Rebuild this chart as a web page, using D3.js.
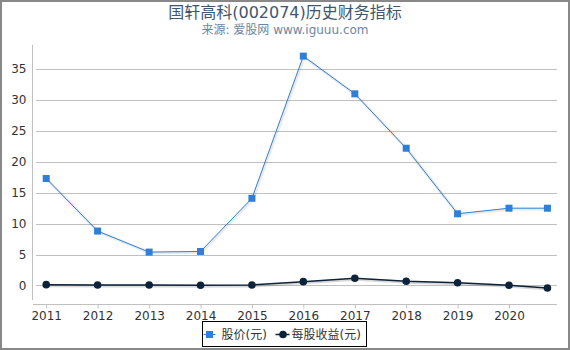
<!DOCTYPE html>
<html>
<head>
<meta charset="utf-8">
<script src="https://cdn.jsdelivr.net/npm/d3@7"></script>
<style>
  body { margin: 0; background: #fff; }
  text { font-family: "DejaVu Sans", "Noto Sans CJK SC", sans-serif; }
</style>
</head>
<body>
<div id="chart"></div>
<script>
// data
const dates = ["2011-01-01", "2012-01-01", "2013-01-01", "2014-01-01", "2015-01-01",
               "2016-01-01", "2017-01-01", "2018-01-01", "2019-01-01", "2020-01-01", "2020-09-30"];
const price = [17.3, 8.8, 5.4, 5.5, 14.1, 37.1, 31.0, 22.2, 11.6, 12.5, 12.5];
const eps = [0.13, 0.08, 0.08, 0.03, 0.08, 0.62, 1.17, 0.68, 0.45, 0.03, -0.4];
const yTicks = [0, 5, 10, 15, 20, 25, 30, 35];
const xTickYears = [2011, 2012, 2013, 2014, 2015, 2016, 2017, 2018, 2019, 2020];
const seriesNames = ["股价(元)", "每股收益(元)"];

const width = 570, height = 350;
const margin = {left: 33, right: 13, top: 45, bottom: 50};

var parse = d3.timeParse("%Y-%m-%d");
var points = dates.map(function(d, i) { return {date: parse(d), price: price[i], eps: eps[i]}; });

var svg = d3.select("#chart").append("svg")
  .attr("width", width)
  .attr("height", height);

// outer frame
svg.append("rect")
  .attr("x", 1).attr("y", 1)
  .attr("width", width - 2).attr("height", height - 2)
  .attr("fill", "#fff")
  .attr("stroke", "#888")
  .attr("stroke-width", 2);

var x = d3.scaleTime()
  .domain([d3.timeDay.offset(points[0].date, -94), d3.timeDay.offset(parse("2020-01-01"), 341)])
  .range([margin.left, width - margin.right]);

var y = d3.scaleLinear()
  .domain([-2.35, 38.9])
  .range([height - margin.bottom, margin.top]);

// gridlines
svg.append("g")
  .selectAll("line")
  .data(yTicks)
  .enter().append("line")
    .attr("x1", margin.left + 3)
    .attr("x2", width - margin.right)
    .attr("y1", function(d) { return Math.round(y(d)) + 0.5; })
    .attr("y2", function(d) { return Math.round(y(d)) + 0.5; })
    .attr("stroke", "#c0c0c0")
    .attr("stroke-width", 1);

// y axis
var yAxis = d3.axisLeft(y)
  .tickValues(yTicks)
  .tickSize(0)
  .tickPadding(6);

var gy = svg.append("g")
  .attr("transform", "translate(" + (margin.left - 0.5) + ",0)")
  .call(yAxis);
gy.select(".domain").attr("stroke", "#c0c0c0").attr("d", "M0," + margin.top + "V" + (height - margin.bottom));
gy.selectAll("text").attr("font-size", "12px").attr("fill", "#333").attr("font-family", "DejaVu Sans");

// x axis
var xAxis = d3.axisBottom(x)
  .tickValues(xTickYears.map(function(yr) { return new Date(yr, 0, 1); }))
  .tickFormat(d3.timeFormat("%Y"))
  .tickSize(4)
  .tickPadding(3);

var gx = svg.append("g")
  .attr("transform", "translate(0," + (height - margin.bottom + 4.5) + ")")
  .call(xAxis);
gx.select(".domain").attr("stroke", "#c0c0c0").attr("d", "M" + margin.left + ",0H" + (width - margin.right));
gx.selectAll(".tick line").attr("stroke", "#c0c0c0");
gx.selectAll("text").attr("font-size", "12px").attr("fill", "#333").attr("font-family", "DejaVu Sans");

// lines
var priceLine = d3.line()
  .x(function(d) { return x(d.date); })
  .y(function(d) { return y(d.price); });

var epsLine = d3.line()
  .x(function(d) { return x(d.date); })
  .y(function(d) { return y(d.eps); });

// shadows
svg.append("path").datum(points)
  .attr("d", priceLine).attr("fill", "none")
  .attr("stroke", "#000").attr("stroke-opacity", 0.08).attr("stroke-width", 3)
  .attr("transform", "translate(1,1)");
svg.append("path").datum(points)
  .attr("d", epsLine).attr("fill", "none")
  .attr("stroke", "#000").attr("stroke-opacity", 0.15).attr("stroke-width", 3)
  .attr("transform", "translate(1,1)");

svg.append("path").datum(points)
  .attr("d", priceLine)
  .attr("fill", "none")
  .attr("stroke", "#2f7ed8")
  .attr("stroke-width", 1);

svg.append("path").datum(points)
  .attr("d", epsLine)
  .attr("fill", "none")
  .attr("stroke", "#0d233a")
  .attr("stroke-width", 1.5);

// markers
svg.selectAll(".price-pt")
  .data(points)
  .enter().append("rect")
    .attr("class", "price-pt")
    .attr("x", function(d) { return x(d.date) - 3.5; })
    .attr("y", function(d) { return y(d.price) - 3.5; })
    .attr("width", 7)
    .attr("height", 7)
    .attr("fill", "#2f7ed8");

svg.selectAll(".eps-pt")
  .data(points)
  .enter().append("circle")
    .attr("class", "eps-pt")
    .attr("cx", function(d) { return x(d.date); })
    .attr("cy", function(d) { return y(d.eps); })
    .attr("r", 3.8)
    .attr("fill", "#0d233a");

// title
svg.append("text")
  .text("国轩高科(002074)历史财务指标")
  .attr("x", width / 2)
  .attr("y", 18)
  .attr("text-anchor", "middle")
  .attr("font-size", "16px")
  .attr("fill", "#3e576f");

svg.append("text")
  .text("来源: 爱股网 www.iguuu.com")
  .attr("x", width / 2)
  .attr("y", 34)
  .attr("text-anchor", "middle")
  .attr("font-size", "12px")
  .attr("fill", "#6d869f");

// legend
var legend = svg.append("g").attr("transform", "translate(202.5,321.5)");
legend.append("rect")
  .attr("width", 164)
  .attr("height", 25)
  .attr("fill", "#fff")
  .attr("stroke", "#000")
  .attr("stroke-width", 1);

var ly = 13;
legend.append("line").attr("x1", 1).attr("x2", 13).attr("y1", ly).attr("y2", ly)
  .attr("stroke", "#2f7ed8").attr("stroke-width", 1);
legend.append("rect").attr("x", 3.5).attr("y", ly - 3.5).attr("width", 7).attr("height", 7)
  .attr("fill", "#2f7ed8");
legend.append("text").text(seriesNames[0])
  .attr("x", 19).attr("y", ly).attr("dominant-baseline", "central")
  .attr("font-size", "12px").attr("fill", "#333");

legend.append("line").attr("x1", 73).attr("x2", 87).attr("y1", ly).attr("y2", ly)
  .attr("stroke", "#0d233a").attr("stroke-width", 1.5);
legend.append("circle").attr("cx", 80.5).attr("cy", ly).attr("r", 3.8)
  .attr("fill", "#0d233a");
legend.append("text").text(seriesNames[1])
  .attr("x", 89).attr("y", ly).attr("dominant-baseline", "central")
  .attr("font-size", "12px").attr("fill", "#333");
</script>
</body>
</html>
